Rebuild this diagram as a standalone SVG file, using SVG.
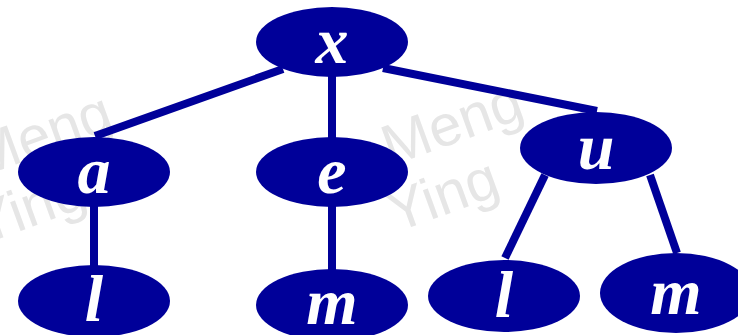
<svg xmlns="http://www.w3.org/2000/svg" width="738" height="335" viewBox="0 0 738 335">
<style>
.n ellipse{fill:#000099}
.n text{fill:#fff;font-family:"Liberation Serif","Times New Roman",serif;font-weight:bold;font-style:italic;font-size:66px;text-anchor:middle}
.wm{fill:#e6e6e6;font-family:"Liberation Sans",sans-serif;font-size:58px}
#edges line{stroke:#000099;stroke-width:8}
</style>
<rect width="738" height="335" fill="#fff"/>
<g transform="rotate(-20 0 0)">
<text class="wm" x="-80" y="160">Meng</text>
<text class="wm" x="-100" y="224">Ying</text>
<text class="wm" x="310" y="290">Meng</text>
<text class="wm" x="292" y="354">Ying</text>
</g>
<g id="edges">
<line x1="283" y1="69" x2="95" y2="136"/>
<line x1="332" y1="70" x2="332" y2="140"/>
<line x1="383" y1="68" x2="597" y2="111"/>
<line x1="94" y1="200" x2="94" y2="268"/>
<line x1="332" y1="200" x2="332" y2="272"/>
<line x1="545" y1="175" x2="505" y2="258"/>
<line x1="650" y1="175" x2="677" y2="253"/>
</g>
<g id="node-x" class="n"><ellipse cx="332" cy="42" rx="76" ry="35"/><text x="332" y="63">x</text></g>
<g id="node-a" class="n"><ellipse cx="94" cy="172" rx="76" ry="35"/><text x="94" y="193">a</text></g>
<g id="node-e" class="n"><ellipse cx="332" cy="172" rx="76" ry="35"/><text x="332" y="193">e</text></g>
<g id="node-u" class="n"><ellipse cx="596" cy="148" rx="76" ry="36"/><text x="596" y="169">u</text></g>
<g id="node-l1" class="n"><ellipse cx="94" cy="301" rx="76" ry="36"/><text x="94" y="321">l</text></g>
<g id="node-m1" class="n"><ellipse cx="332" cy="305" rx="76" ry="36"/><text x="332" y="324">m</text></g>
<g id="node-l2" class="n"><ellipse cx="504" cy="296" rx="76" ry="36"/><text x="504" y="317">l</text></g>
<g id="node-m2" class="n"><ellipse cx="676" cy="293" rx="76" ry="40"/><text x="676" y="314">m</text></g>
</svg>
